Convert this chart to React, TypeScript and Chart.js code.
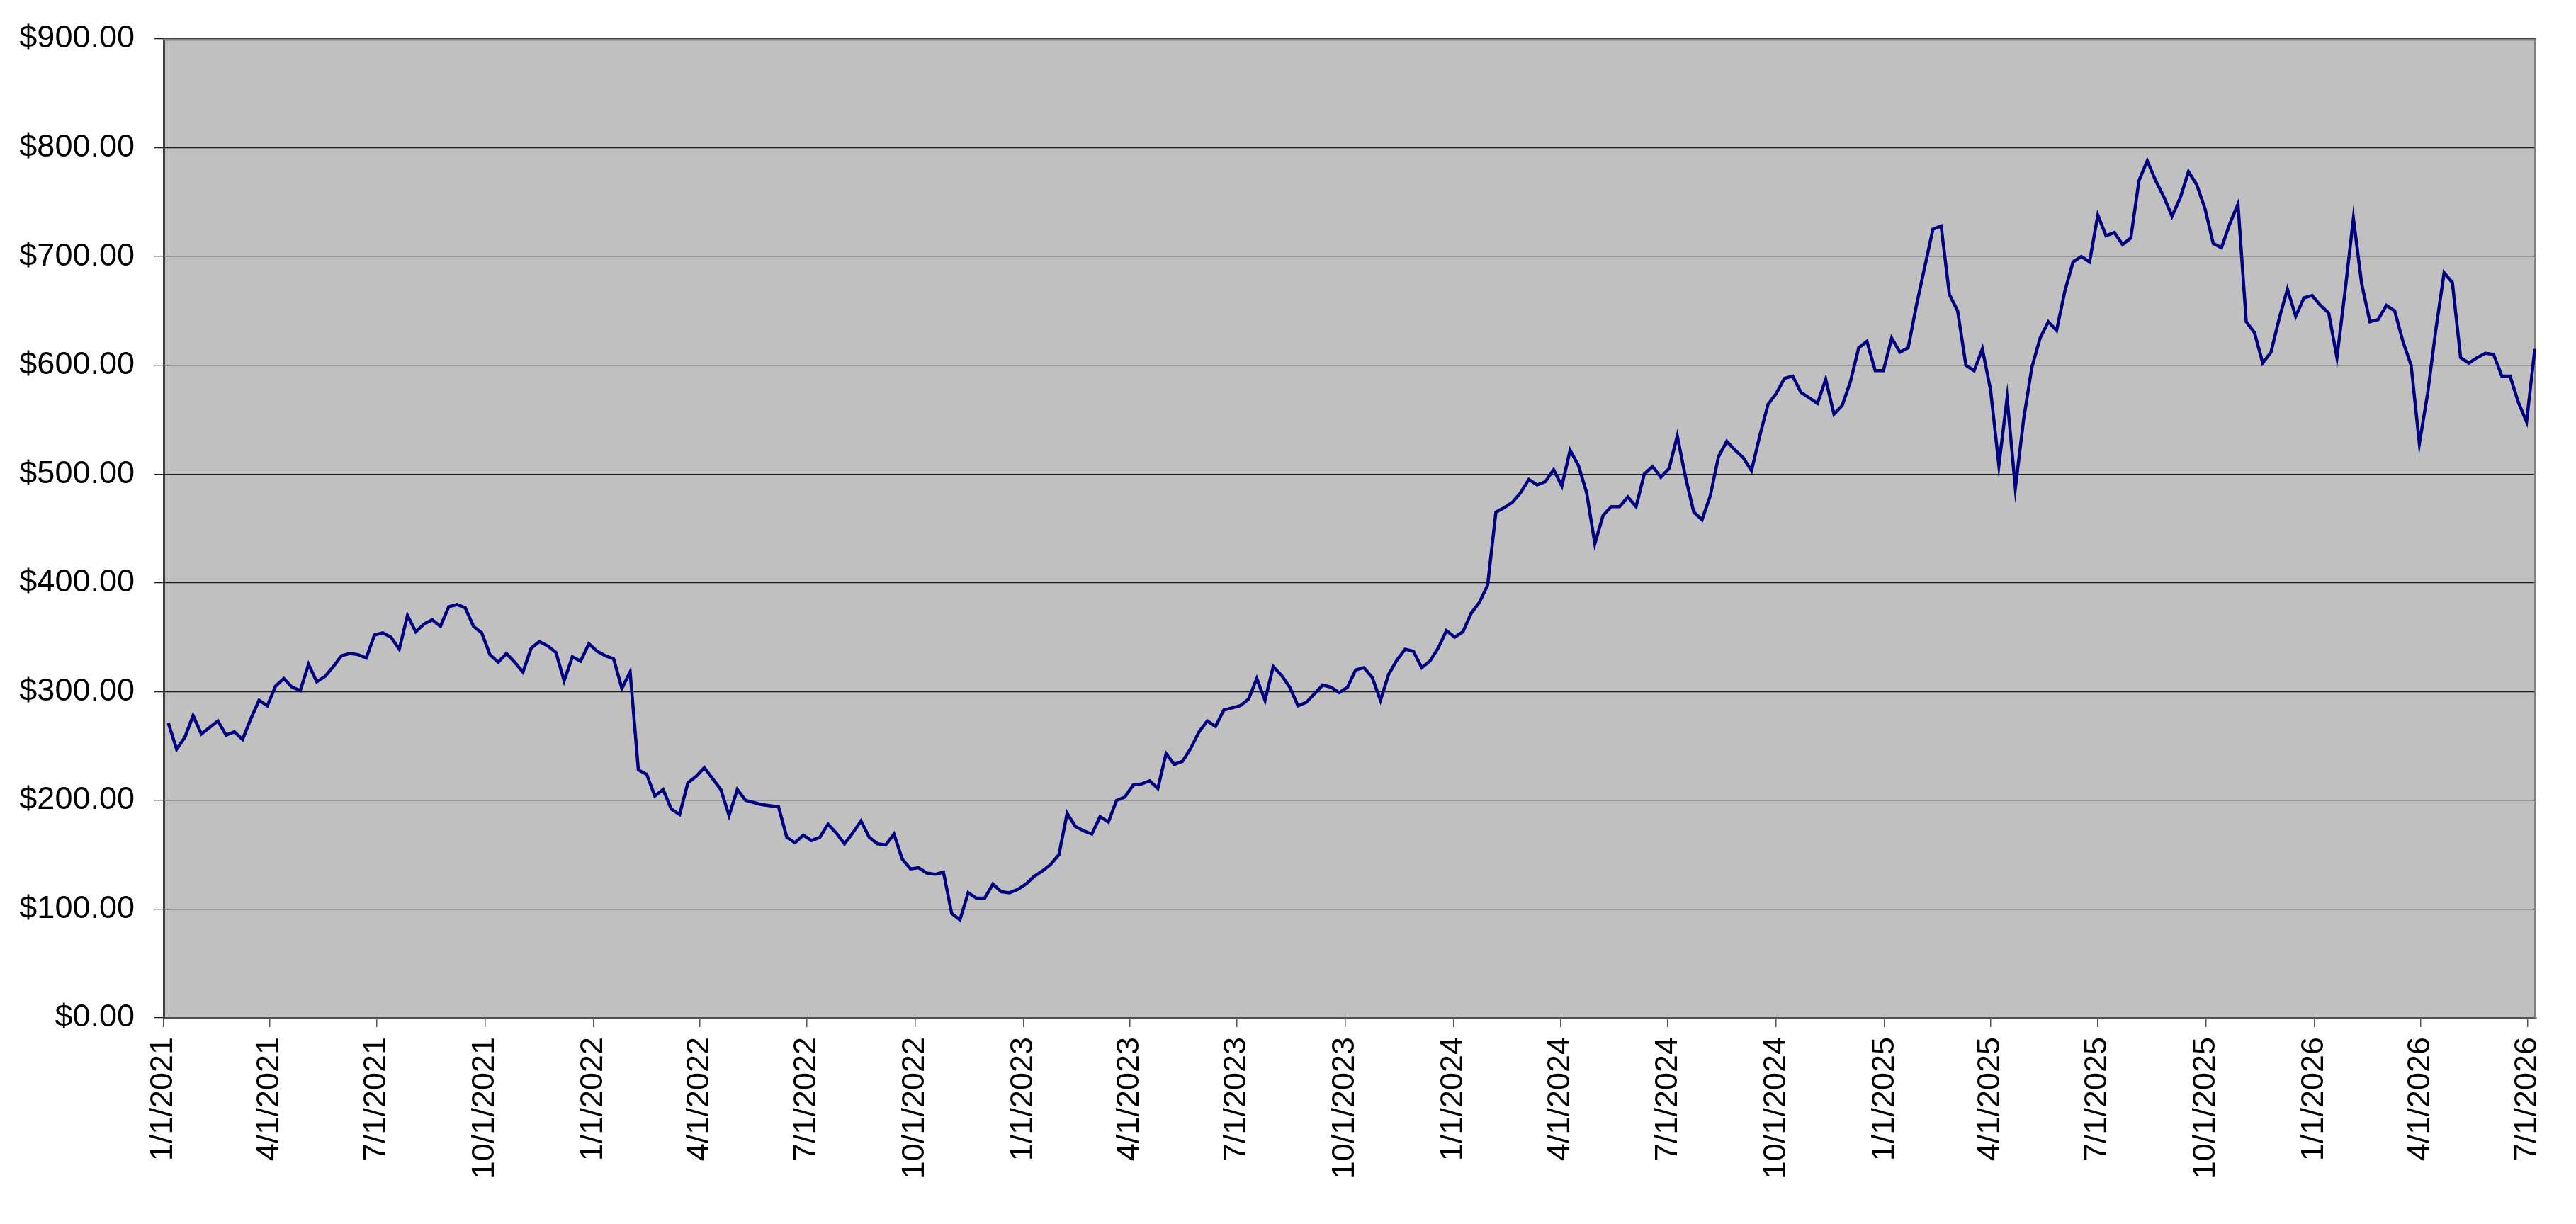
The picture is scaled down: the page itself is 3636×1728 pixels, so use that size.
import { useEffect, useRef } from 'react';
import Chart from 'chart.js/auto';

// weekly closing values, first week starting 1/5/2021
const firstDate = '1/5/2021';
const stepDays = 7;

const closes2021 = [
  271, 247, 258, 278, 261, 267, 273, 260, 263, 256, 275, 292, 287, 305, 312, 304, 301, 325,
  309, 314, 323, 333, 335, 334, 331, 352, 354, 350, 339, 370, 355, 362, 366, 360, 378, 380,
  377, 360, 354, 334, 327, 335, 327, 318, 340, 346, 342, 336, 310, 332, 328, 344,
];
const closes2022 = [
  337, 333, 330, 303, 318, 228, 224, 204, 210, 192, 187, 216, 222, 230, 220, 210, 186, 210,
  200, 198, 196, 195, 194, 166, 161, 168, 163, 166, 178, 170, 160, 170, 181, 166, 160, 159,
  169, 146, 137, 138, 133, 132, 134, 96, 90, 115, 110, 110, 123, 116, 115, 118,
];
const closes2023 = [
  123, 130, 135, 141, 150, 188, 176, 172, 169, 185, 180, 200, 203, 214, 215, 218, 211, 243,
  233, 236, 248, 263, 273, 268, 283, 285, 287, 293, 312, 292, 323, 315, 304, 287, 290, 298,
  306, 304, 299, 304, 320, 322, 313, 292, 316, 329, 339, 337, 322, 328, 340, 356,
];
const closes2024 = [
  350, 355, 372, 382, 398, 465, 469, 474, 483, 495, 490, 493, 504, 489, 522, 508, 483, 436,
  462, 470, 470, 479, 470, 500, 507, 497, 505, 535, 497, 465, 458, 480, 516, 530, 522, 515,
  503, 535, 564, 574, 588, 590, 575, 570, 565, 587, 555, 563, 585, 616, 622, 595,
];
const closes2025 = [
  595, 625, 612, 616, 655, 690, 725, 728, 665, 650, 600, 595, 615, 577, 508, 570, 487, 550,
  598, 625, 640, 632, 668, 695, 700, 695, 738, 719, 722, 711, 717, 770, 788, 770, 755, 737,
  754, 778, 766, 744, 712, 708, 730, 748, 640, 630, 602, 612, 643, 670, 645, 662,
];
const closes2026 = [
  664, 655, 648, 607, 669, 735, 675, 640, 642, 655, 650, 622, 600, 528, 574, 633, 685, 676,
  607, 602, 607, 611, 610, 590, 590, 566, 548, 615,
];

const prices = [...closes2021, ...closes2022, ...closes2023, ...closes2024, ...closes2025, ...closes2026];

const tickLabels = [
  '1/1/2021', '4/1/2021', '7/1/2021', '10/1/2021',
  '1/1/2022', '4/1/2022', '7/1/2022', '10/1/2022',
  '1/1/2023', '4/1/2023', '7/1/2023', '10/1/2023',
  '1/1/2024', '4/1/2024', '7/1/2024', '10/1/2024',
  '1/1/2025', '4/1/2025', '7/1/2025', '10/1/2025',
  '1/1/2026', '4/1/2026', '7/1/2026',
];
const axisEndDate = '7/8/2026';
const yTicks = [0, 100, 200, 300, 400, 500, 600, 700, 800, 900];

const DAY = 86400000;
const origin = Date.UTC(2021, 0, 1);
function dayOf(label: string) {
  const [m, d, y] = label.split('/').map(Number);
  return Math.round((Date.UTC(y, m - 1, d) - origin) / DAY);
}

const plotFrame = {
  id: 'plotFrame',
  beforeDraw(chart: any) {
    const { ctx, chartArea: a } = chart;
    ctx.save();
    ctx.fillStyle = '#C0C0C0';
    ctx.fillRect(a.left, a.top, a.right - a.left, a.bottom - a.top);
    ctx.restore();
  },
  beforeDatasetsDraw(chart: any) {
    const { ctx, chartArea: a } = chart;
    ctx.save();
    ctx.strokeStyle = '#808080';
    ctx.lineWidth = 3;
    ctx.beginPath();
    ctx.moveTo(a.left, a.top + 1);
    ctx.lineTo(a.right - 1, a.top + 1);
    ctx.lineTo(a.right - 1, a.bottom);
    ctx.stroke();
    ctx.restore();
  },
};

export default function App() {
  const chartRef = useRef<HTMLCanvasElement>(null);
  const chartInstance = useRef<Chart | null>(null);

  useEffect(() => {
    if (!chartRef.current) return;
    const ctx = chartRef.current.getContext('2d');
    if (!ctx) return;

    if (chartInstance.current) {
      chartInstance.current.destroy();
    }

    const start = dayOf(firstDate);
    const points = prices.map((v, i) => ({ x: start + i * stepDays, y: v }));
    const tickDays = tickLabels.map(dayOf);
    const labelByDay = new Map(tickLabels.map((l) => [dayOf(l), l]));

    chartInstance.current = new Chart(ctx, {
      type: 'line',
      data: {
        datasets: [{
          label: 'Price',
          data: points,
          borderColor: '#000080',
          borderWidth: 4.5,
          pointRadius: 0,
          tension: 0,
        }],
      },
      plugins: [plotFrame],
      options: {
        animation: false,
        responsive: true,
        maintainAspectRatio: false,
        layout: { padding: { top: 43, right: 29, bottom: 0, left: 0 } },
        plugins: {
          legend: { display: false },
          tooltip: { enabled: false },
        },
        scales: {
          x: {
            type: 'linear',
            min: 0,
            max: dayOf(axisEndDate),
            afterBuildTicks: (axis: any) => {
              axis.ticks = tickDays.map((v) => ({ value: v }));
            },
            afterFit: (axis: any) => {
              axis.height = 291;
            },
            grid: {
              display: true,
              drawOnChartArea: false,
              drawTicks: true,
              tickLength: 13,
              color: '#555555',
              lineWidth: 1.5,
            },
            border: { display: true, color: '#505050', width: 3 },
            ticks: {
              autoSkip: false,
              maxRotation: 90,
              minRotation: 90,
              padding: 14,
              color: '#000000',
              font: { family: '"Liberation Sans", Arial, sans-serif', size: 45 },
              callback: (value: any) => labelByDay.get(Number(value)) ?? '',
            },
          },
          y: {
            min: 0,
            max: 900,
            afterBuildTicks: (axis: any) => {
              axis.ticks = yTicks.map((v) => ({ value: v }));
            },
            afterFit: (axis: any) => {
              axis.width = 231;
            },
            grid: {
              color: '#1a1a1a',
              lineWidth: 1.3,
              tickLength: 13,
            },
            border: { display: true, color: '#404040', width: 3 },
            ticks: {
              padding: 28,
              color: '#000000',
              font: { family: '"Liberation Sans", Arial, sans-serif', size: 45 },
              callback: (value: any) => '$' + Number(value).toFixed(2),
            },
          },
        },
      },
    });

    return () => {
      if (chartInstance.current) {
        chartInstance.current.destroy();
        chartInstance.current = null;
      }
    };
  }, []);

  return (
    <div style={{ position: 'fixed', left: 0, top: 0, width: '3636px', height: '1728px', background: '#ffffff' }}>
      <canvas ref={chartRef}></canvas>
    </div>
  );
}
